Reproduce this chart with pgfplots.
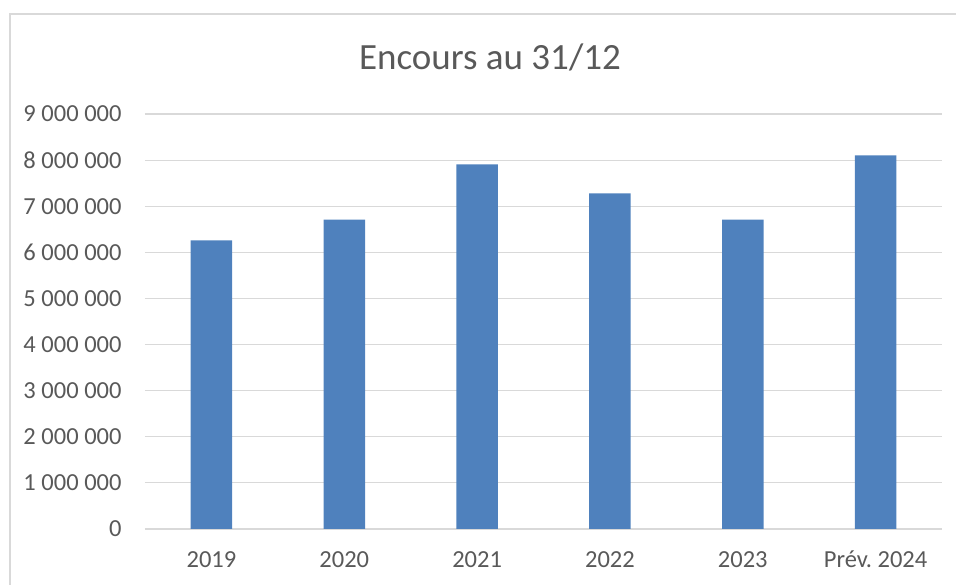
\documentclass[border=0pt]{standalone}
\usepackage{fontspec}
\setmainfont{Carlito}
\usepackage{pgfplots}
\pgfplotsset{compat=1.18}
\definecolor{barblue}{HTML}{4F81BD}
\definecolor{gridgray}{HTML}{D9D9D9}
\definecolor{txtgray}{HTML}{595959}
\frenchspacing
\begin{document}
\begin{tikzpicture}[x=1bp,y=1bp]
\useasboundingbox (-145,-56) rectangle (811,529);
\begin{axis}[
    at={(0,0)}, anchor=south west,
    scale only axis,
    width=797bp, height=415bp,
    xmin=-0.5, xmax=5.5,
    ymin=0, ymax=9000000,
    xtick={0,1,2,3,4,5},
    xticklabels={2019,2020,2021,2022,2023,Prév. 2024},
    ytick={0,1000000,2000000,3000000,4000000,5000000,6000000,7000000,8000000,9000000},
    yticklabels={0,1 000 000,2 000 000,3 000 000,4 000 000,5 000 000,6 000 000,7 000 000,8 000 000,9 000 000},
    scaled y ticks=false,
    /pgf/number format/assume math mode=true,
    axis line style={draw=none},
    major tick length=0pt,
    ymajorgrids=true,
    grid style={gridgray, line width=1.2bp},
    tick label style={font=\fontsize{24.5bp}{28bp}\selectfont, text=txtgray, inner sep=0pt},
    xticklabel style={anchor=base, yshift=-38.5bp},
    yticklabel style={anchor=east, xshift=-23.3bp},
    clip=false,
]
\addplot[ybar, bar width=41.5bp, fill=barblue, draw=none] coordinates {
  (0,6260000) (1,6710000) (2,7910000) (3,7280000) (4,6710000) (5,8100000)
};
\end{axis}
% chart frame (partially visible)
\draw[gridgray, line width=1.2bp] (-135,-60) -- (-135,515) -- (815,515);
\node[anchor=base, text=txtgray, font=\fontsize{37bp}{42bp}\selectfont, inner sep=0pt] at (345,459) {Encours au 31/12};
\end{tikzpicture}
\end{document}
